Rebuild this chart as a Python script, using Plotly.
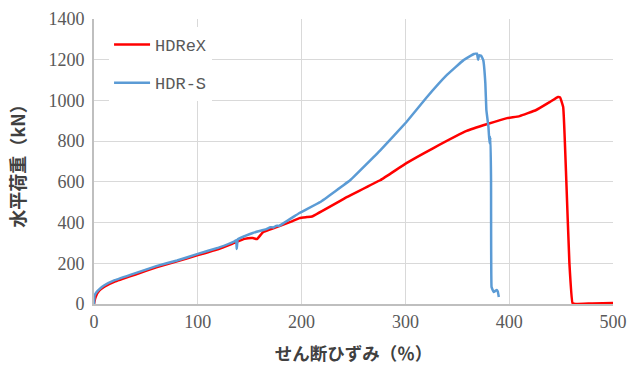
import plotly.graph_objects as go

# HDReX (red)
hdrex_x = [0, 1, 2, 5, 10, 20, 40, 60, 80, 100, 120, 135, 145, 153, 157, 163, 176, 190, 198, 205, 210, 244, 276,
           301, 327, 359, 379, 398, 410, 426, 439, 447, 449, 452, 455, 458, 461, 464, 480, 500]
hdrex_y = [0, 25, 40, 65, 85, 110, 145, 180, 210, 240, 270, 300, 320, 324, 319, 354, 378, 405, 422, 427, 430, 526, 609,
           692, 766, 850, 884, 913, 923, 953, 992, 1017, 1015, 968, 609, 201, 5, 0, 3, 5]

# HDR-S (blue)
hdrs_x = [0, 0.5, 2, 5, 10, 20, 40, 60, 80, 100, 120, 135, 137, 137.5, 138.5, 145, 153, 166, 170, 173, 176, 178, 198, 218,
          247, 276, 301, 320, 340, 356, 366, 369, 370, 371, 373, 375, 377, 378, 380, 381, 382, 382.5, 383, 385, 388, 389, 390]
hdrs_y = [0, 40, 55, 72, 92, 117, 152, 186, 214, 246, 277, 307, 314, 270, 318, 333, 349, 368, 377, 376, 385, 383, 447, 501,
          609, 756, 894, 1012, 1125, 1198, 1228, 1230, 1200, 1222, 1220, 1198, 1085, 953, 870, 790, 820, 609, 83, 59, 69, 62, 34]

x_ticks = [0, 100, 200, 300, 400, 500]
y_ticks = [0, 200, 400, 600, 800, 1000, 1200, 1400]

fig = go.Figure()
fig.add_trace(go.Scatter(x=hdrex_x, y=hdrex_y, mode="lines", name="HDReX", legendgroup="a",
                         line=dict(color="#FF0000", width=2.5, shape="spline", smoothing=0.3)))
fig.add_trace(go.Scatter(x=hdrs_x, y=hdrs_y, mode="lines", name="HDR-S", legendgroup="b",
                         line=dict(color="#5B9BD5", width=2.5, shape="spline", smoothing=0.2)))

serif = "'Liberation Serif', 'Times New Roman', 'DejaVu Serif', serif"
mono = "'Liberation Mono', 'Courier New', 'DejaVu Sans Mono', monospace"
tickfont = dict(family=serif, size=18, color="#595959")
titlefont = dict(family="'Noto Sans CJK JP', sans-serif", size=17.5, color="#404040", weight="bold")

fig.update_layout(
    width=628, height=365,
    margin=dict(l=94, r=15, t=19, b=61),
    paper_bgcolor="white", plot_bgcolor="white",
    showlegend=True,
    legend=dict(x=0.029, y=0.972, xanchor="left", yanchor="top",
                bgcolor="white", borderwidth=0,
                font=dict(family=mono, size=17, color="#595959"),
                tracegroupgap=13, traceorder="grouped", itemwidth=36),
    xaxis=dict(range=[0, 500], tickvals=x_ticks, ticktext=[str(v) for v in x_ticks],
               showgrid=True, gridcolor="#D9D9D9", gridwidth=1.3, automargin=False,
               showline=True, linecolor="#BFBFBF", linewidth=2, mirror=False,
               zeroline=False, ticks="", tickfont=tickfont,
               title=dict(text="せん断ひずみ（％）", font=titlefont, standoff=20)),
    yaxis=dict(range=[0, 1400], tickvals=y_ticks, ticktext=[str(v) for v in y_ticks],
               showgrid=True, gridcolor="#D9D9D9", gridwidth=1.3, automargin=False,
               showline=True, linecolor="#BFBFBF", linewidth=2,
               zeroline=False, ticks="", tickfont=tickfont, ticklabelstandoff=4,
               title=dict(text="水平荷重（kN）", font=dict(titlefont, size=18), standoff=18)),
)
fig.write_html("out.html", default_width="628px", default_height="365px",
               config={"displayModeBar": False},
               post_script="document.body.style.margin='0';document.body.style.overflow='hidden';")
